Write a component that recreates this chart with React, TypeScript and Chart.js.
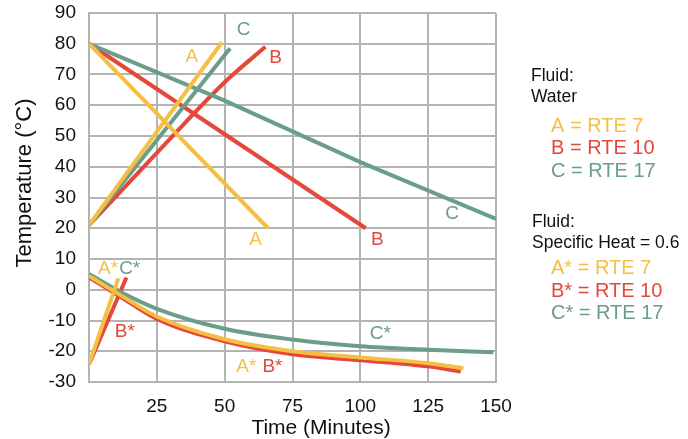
import React, { useEffect, useRef } from "react";
import { Chart, registerables } from "chart.js";

Chart.register(...registerables);

const YELLOW = "#F5BF43";
const RED = "#E5473A";
const GREEN = "#6A9E88";
const GRID = "#b3b3b3";
const FONT = "'Liberation Sans', Arial, sans-serif";

const xTitle = "Time (Minutes)";
const yTitle = "Temperature (°C)";

// Water (time in minutes, temperature in °C)
const heatA: [number, number][] = [[0, 21], [49, 80.5]];
const heatB: [number, number][] = [[0, 21], [25, 44.5], [50, 67.5], [65, 79]];
const heatC: [number, number][] = [[0, 21], [52, 78.5]];
const coolA: [number, number][] = [[0, 80], [66, 20]];
const coolB: [number, number][] = [[0, 80], [102, 20]];
const coolC: [number, number][] = [[0, 80], [50, 61.5], [100, 41.5], [150, 23]];

// Specific heat = 0.6
const heatAs: [number, number][] = [[0, -24.3], [10.8, 3.7]];
const heatBs: [number, number][] = [[0, -24.3], [13.8, 4]];
const coolAs: [number, number][] = [[0, 4.5], [12, -2], [25, -8.7], [50, -16.1], [75, -20], [100, -22], [125, -23.9], [138, -25.5]];
const coolBs: [number, number][] = [[0, 4], [12, -2.5], [25, -9.5], [50, -16.8], [75, -21], [100, -22.9], [125, -24.9], [137, -26.6]];
const coolCs: [number, number][] = [[0, 5.1], [12, -0.9], [25, -6.2], [50, -12.7], [75, -16.2], [100, -18.4], [125, -19.5], [149, -20.3]];

const xTicks = [25, 50, 75, 100, 125, 150];

// Curve labels in data coordinates
const curveLabels: { text: string; x: number; y: number; color: string }[] = [
  { text: "A", x: 37.9, y: 75.7, color: YELLOW },
  { text: "C", x: 57, y: 84.5, color: GREEN },
  { text: "B", x: 68.8, y: 75.4, color: RED },
  { text: "A", x: 61.4, y: 16.2, color: YELLOW },
  { text: "B", x: 106.3, y: 16.2, color: RED },
  { text: "C", x: 133.8, y: 24.6, color: GREEN },
  { text: "A*", x: 7, y: 6.7, color: YELLOW },
  { text: "C*", x: 15, y: 6.7, color: GREEN },
  { text: "B*", x: 13.2, y: -13.7, color: RED },
  { text: "A*", x: 58, y: -25, color: YELLOW },
  { text: "B*", x: 67.6, y: -25, color: RED },
  { text: "C*", x: 107.4, y: -14.2, color: GREEN },
];

const legendLines: { text: string; color: string; size: number; dx: number; dy: number }[] = [
  { text: "Fluid:", color: "#111", size: 17.5, dx: 531, dy: 76 },
  { text: "Water", color: "#111", size: 17.5, dx: 531, dy: 97 },
  { text: "A = RTE 7", color: YELLOW, size: 20, dx: 551, dy: 126 },
  { text: "B = RTE 10", color: RED, size: 20, dx: 551, dy: 148 },
  { text: "C = RTE 17", color: GREEN, size: 20, dx: 551, dy: 171 },
  { text: "Fluid:", color: "#111", size: 17.5, dx: 532, dy: 222 },
  { text: "Specific Heat = 0.6", color: "#111", size: 17.5, dx: 532, dy: 243 },
  { text: "A* = RTE 7", color: YELLOW, size: 20, dx: 551, dy: 268 },
  { text: "B* = RTE 10", color: RED, size: 20, dx: 551, dy: 291 },
  { text: "C* = RTE 17", color: GREEN, size: 20, dx: 551, dy: 313 },
];

const toPts = (arr: [number, number][]) => arr.map(([x, y]) => ({ x, y }));

const mk = (data: [number, number][], color: string, curved = false) => ({
  data: toPts(data),
  borderColor: color,
  backgroundColor: color,
  borderWidth: 4,
  pointRadius: 0,
  fill: false,
  tension: curved ? 0.4 : 0,
  cubicInterpolationMode: curved ? ("monotone" as const) : ("default" as const),
  borderCapStyle: "butt" as const,
});

const labelPlugin = {
  id: "labels",
  afterDatasetsDraw(chart: any) {
    const { ctx, scales } = chart;
    ctx.save();
    ctx.textAlign = "center";
    ctx.textBaseline = "middle";
    ctx.font = `19px ${FONT}`;
    curveLabels.forEach((l) => {
      ctx.fillStyle = l.color;
      ctx.fillText(l.text, scales.x.getPixelForValue(l.x), scales.y.getPixelForValue(l.y));
    });
    // axis titles
    ctx.fillStyle = "#111";
    ctx.font = `21px ${FONT}`;
    ctx.fillText(xTitle, 321, 428);
    ctx.save();
    ctx.translate(25, 183);
    ctx.rotate(-Math.PI / 2);
    ctx.font = `22px ${FONT}`;
    ctx.fillText(yTitle, 0, 0);
    ctx.restore();
    // legend
    ctx.textAlign = "left";
    legendLines.forEach((l) => {
      ctx.fillStyle = l.color;
      ctx.font = `${l.size}px ${FONT}`;
      ctx.fillText(l.text, l.dx, l.dy);
    });
    ctx.restore();
  },
};

export default function App() {
  const ref = useRef<HTMLCanvasElement>(null);
  useEffect(() => {
    if (!ref.current) return;
    const chart = new Chart(ref.current, {
      type: "line",
      data: {
        datasets: [
          mk(heatA, YELLOW),
          mk(coolA, YELLOW),
          mk(heatC, GREEN),
          mk(coolC, GREEN),
          mk(heatB, RED, true),
          mk(coolB, RED),
          mk(heatAs, YELLOW),
          mk(coolAs, YELLOW, true),
          mk(coolCs, GREEN, true),
          mk(heatBs, RED),
          mk(coolBs, RED, true),
        ] as any,
      },
      options: {
        animation: false,
        responsive: true,
        maintainAspectRatio: false,
        events: [],
        layout: { padding: { top: 13, right: 192, left: 0, bottom: 0 } },
        plugins: { legend: { display: false }, tooltip: { enabled: false } },
        scales: {
          x: {
            type: "linear",
            min: 0,
            max: 150,
            afterBuildTicks: (s: any) => {
              s.ticks = [0, ...xTicks].map((v) => ({ value: v }));
            },
            afterFit: (s: any) => {
              s.height = 57;
              s.paddingLeft = 0;
              s.paddingRight = 0;
            },
            ticks: {
              callback: (v: any) => (v === 0 ? "" : String(v)),
              color: "#111",
              font: { family: FONT, size: 19 },
              padding: 13,
              maxRotation: 0,
            },
            grid: { color: GRID, lineWidth: 2, drawTicks: false },
            border: { color: GRID, width: 2 },
          },
          y: {
            type: "linear",
            min: -30,
            max: 90,
            afterFit: (s: any) => {
              s.width = 89;
              s.paddingTop = 0;
              s.paddingBottom = 0;
            },
            ticks: {
              stepSize: 10,
              color: "#111",
              font: { family: FONT, size: 19 },
              padding: 13,
            },
            grid: { color: GRID, lineWidth: 2, drawTicks: false },
            border: { color: GRID, width: 2 },
          },
        },
      },
      plugins: [labelPlugin],
    });
    return () => chart.destroy();
  }, []);
  return (
    <div style={{ position: "absolute", left: 0, top: 0, width: 688, height: 439 }}>
      <canvas ref={ref} />
    </div>
  );
}
